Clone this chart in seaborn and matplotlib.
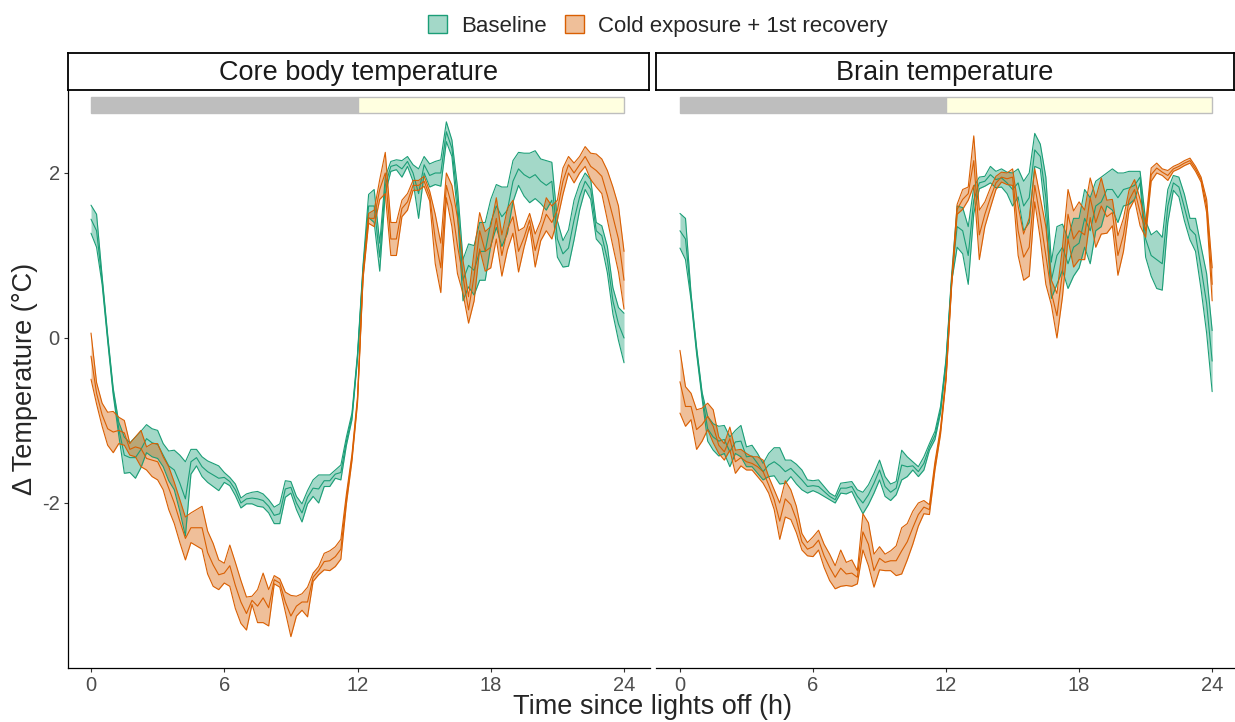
import numpy as np
import pandas as pd
import matplotlib.pyplot as plt
import seaborn as sns
from matplotlib.patches import Patch, Rectangle
from matplotlib.colors import to_rgb

# time since lights off (h), one sample every 15 min
TIME = np.arange(0, 24.25, 0.25)

# Core body temperature
core_base_mean = [1.44, 1.3, 0.7, 0.0, -0.65, -1.1, -1.42, -1.45, -1.45, -1.35, -1.22, -1.27, -1.29,
                  -1.42, -1.55, -1.6, -1.76, -1.95, -1.5, -1.45, -1.56, -1.62, -1.66, -1.7, -1.69,
                  -1.74, -1.84, -2.0, -1.95, -1.94, -1.95, -1.97, -2.04, -2.15, -2.13, -1.83, -1.81,
                  -2.0, -2.12, -1.93, -1.82, -1.83, -1.73, -1.73, -1.65, -1.63, -1.25, -0.95, -0.22,
                  0.85, 1.6, 1.6, 0.98, 1.85, 2.08, 2.1, 2.05, 2.14, 2.0, 1.75, 2.1, 1.97, 2.0, 2.0,
                  2.5, 2.3, 1.67, 0.7, 0.88, 0.82, 1.05, 1.05, 1.4, 1.6, 1.47, 1.55, 1.9, 2.05, 1.98,
                  1.94, 1.98, 1.9, 1.85, 1.9, 1.2, 1.02, 1.09, 1.43, 1.71, 1.9, 1.8, 1.3, 1.24, 0.95,
                  0.45, 0.17, 0.0]
core_base_se = [0.17, 0.2, 0.05, 0.04, 0.04, 0.08, 0.22, 0.18, 0.25, 0.22, 0.17, 0.17, 0.17, 0.14,
                0.18, 0.24, 0.34, 0.45, 0.15, 0.1, 0.12, 0.13, 0.14, 0.15, 0.06, 0.05, 0.07, 0.06,
                0.06, 0.07, 0.09, 0.08, 0.08, 0.1, 0.12, 0.1, 0.07, 0.08, 0.11, 0.08, 0.1, 0.17, 0.07,
                0.07, 0.05, 0.09, 0.05, 0.04, 0.03, 0.04, 0.14, 0.2, 0.17, 0.1, 0.06, 0.06, 0.1, 0.06,
                0.1, 0.3, 0.1, 0.14, 0.14, 0.16, 0.12, 0.1, 0.16, 0.25, 0.26, 0.3, 0.35, 0.35, 0.28,
                0.26, 0.36, 0.28, 0.25, 0.2, 0.26, 0.3, 0.29, 0.27, 0.3, 0.23, 0.22, 0.16, 0.22, 0.24,
                0.16, 0.1, 0.12, 0.1, 0.12, 0.16, 0.16, 0.2, 0.3]
core_cold_mean = [-0.22, -0.67, -0.93, -1.1, -1.14, -1.12, -1.15, -1.35, -1.32, -1.34, -1.46, -1.48,
                  -1.5, -1.64, -1.82, -2.0, -2.22, -2.43, -2.3, -2.3, -2.3, -2.6, -2.75, -2.87, -2.85,
                  -2.76, -3.0, -3.2, -3.34, -3.18, -3.25, -3.15, -3.27, -2.93, -2.97, -3.2, -3.37,
                  -3.25, -3.2, -3.2, -2.9, -2.82, -2.71, -2.7, -2.65, -2.56, -1.95, -1.45, -0.75,
                  0.75, 1.45, 1.45, 1.8, 2.0, 1.2, 1.2, 1.57, 1.65, 1.85, 1.85, 1.9, 1.72, 1.2, 0.85,
                  1.85, 1.6, 1.12, 0.74, 0.34, 0.75, 1.3, 1.05, 1.1, 1.45, 1.0, 1.32, 1.47, 1.05, 1.22,
                  1.43, 1.06, 1.3, 1.5, 1.4, 1.55, 1.9, 2.1, 2.0, 2.1, 2.2, 2.08, 2.03, 1.96, 1.73,
                  1.47, 1.2, 0.7]
core_cold_se = [0.28, 0.13, 0.14, 0.2, 0.25, 0.16, 0.15, 0.07, 0.12, 0.22, 0.14, 0.2, 0.22, 0.2,
                0.26, 0.25, 0.26, 0.26, 0.18, 0.22, 0.26, 0.26, 0.26, 0.18, 0.12, 0.25, 0.28, 0.26,
                0.2, 0.05, 0.2, 0.3, 0.22, 0.05, 0.05, 0.12, 0.25, 0.12, 0.1, 0.18, 0.05, 0.05, 0.1,
                0.12, 0.12, 0.12, 0.06, 0.04, 0.04, 0.03, 0.06, 0.1, 0.12, 0.25, 0.2, 0.2, 0.1, 0.1,
                0.06, 0.06, 0.06, 0.06, 0.3, 0.3, 0.15, 0.25, 0.34, 0.2, 0.16, 0.3, 0.22, 0.24, 0.25,
                0.25, 0.25, 0.25, 0.2, 0.25, 0.12, 0.08, 0.2, 0.12, 0.2, 0.2, 0.12, 0.16, 0.1, 0.12,
                0.1, 0.12, 0.16, 0.2, 0.21, 0.3, 0.36, 0.4, 0.35]

# Brain temperature
brain_base_mean = [1.3, 1.2, 0.5, -0.15, -0.7, -1.1, -1.2, -1.25, -1.23, -1.38, -1.26, -1.25, -1.44,
                   -1.43, -1.52, -1.62, -1.54, -1.5, -1.55, -1.62, -1.58, -1.65, -1.72, -1.8, -1.79,
                   -1.8, -1.86, -1.92, -1.96, -1.82, -1.82, -1.8, -1.92, -2.0, -1.9, -1.76, -1.6, -1.8,
                   -1.87, -1.82, -1.54, -1.56, -1.55, -1.62, -1.52, -1.32, -1.18, -0.87, -0.28, 0.72,
                   1.35, 1.3, 1.0, 1.67, 1.88, 1.9, 1.98, 1.92, 1.94, 1.88, 1.8, 1.88, 1.6, 1.7, 2.28,
                   2.2, 1.7, 0.7, 1.0, 1.1, 0.9, 1.1, 1.15, 1.45, 1.3, 1.6, 1.65, 1.8, 1.8, 1.7, 1.8,
                   1.82, 1.85, 1.95, 1.2, 1.0, 0.95, 0.9, 1.6, 1.88, 1.83, 1.58, 1.32, 1.25, 0.85, 0.42,
                   -0.28]
brain_base_se = [0.21, 0.25, 0.04, 0.04, 0.04, 0.15, 0.16, 0.18, 0.17, 0.18, 0.14, 0.19, 0.12, 0.13,
                 0.12, 0.1, 0.14, 0.17, 0.22, 0.14, 0.1, 0.12, 0.12, 0.08, 0.06, 0.08, 0.06, 0.04,
                 0.04, 0.06, 0.07, 0.06, 0.08, 0.13, 0.12, 0.12, 0.12, 0.12, 0.1, 0.08, 0.18, 0.12,
                 0.05, 0.06, 0.08, 0.04, 0.05, 0.04, 0.03, 0.04, 0.25, 0.28, 0.35, 0.16, 0.07, 0.06,
                 0.1, 0.1, 0.11, 0.13, 0.2, 0.17, 0.3, 0.3, 0.2, 0.15, 0.25, 0.22, 0.35, 0.28, 0.3,
                 0.35, 0.3, 0.35, 0.4, 0.3, 0.3, 0.2, 0.25, 0.3, 0.2, 0.2, 0.17, 0.07, 0.22, 0.25,
                 0.35, 0.32, 0.2, 0.09, 0.12, 0.16, 0.13, 0.2, 0.26, 0.36, 0.37]
brain_cold_mean = [-0.53, -0.83, -0.83, -1.11, -1.05, -0.95, -1.07, -1.3, -1.38, -1.22, -1.5, -1.45,
                   -1.5, -1.52, -1.56, -1.62, -1.78, -1.96, -2.22, -1.95, -2.02, -2.2, -2.47, -2.56,
                   -2.53, -2.45, -2.64, -2.78, -2.9, -2.79, -2.86, -2.85, -2.9, -2.35, -2.5, -2.82,
                   -2.67, -2.72, -2.7, -2.7, -2.58, -2.47, -2.3, -2.14, -2.05, -2.08, -1.55, -1.13,
                   -0.48, 0.65, 1.56, 1.68, 1.75, 2.15, 1.25, 1.5, 1.7, 1.88, 1.95, 1.93, 1.95, 1.3,
                   0.98, 1.1, 1.85, 1.45, 1.0, 0.55, 0.27, 0.8, 1.5, 1.2, 1.3, 1.25, 1.7, 1.4, 1.6,
                   1.47, 1.52, 1.0, 1.25, 1.67, 1.8, 1.52, 1.3, 1.98, 2.06, 2.01, 1.97, 2.05, 2.08,
                   2.12, 2.15, 2.05, 1.92, 1.6, 0.65]
brain_cold_se = [0.38, 0.24, 0.16, 0.24, 0.2, 0.16, 0.2, 0.1, 0.1, 0.14, 0.14, 0.1, 0.1, 0.08, 0.12,
                 0.14, 0.1, 0.12, 0.22, 0.22, 0.18, 0.16, 0.1, 0.08, 0.12, 0.12, 0.14, 0.16, 0.14,
                 0.22, 0.14, 0.16, 0.08, 0.22, 0.26, 0.2, 0.14, 0.1, 0.12, 0.18, 0.28, 0.22, 0.2,
                 0.14, 0.08, 0.06, 0.05, 0.04, 0.03, 0.03, 0.06, 0.12, 0.08, 0.3, 0.3, 0.15, 0.12,
                 0.08, 0.06, 0.07, 0.1, 0.3, 0.28, 0.35, 0.2, 0.25, 0.35, 0.15, 0.27, 0.3, 0.3, 0.34,
                 0.35, 0.3, 0.24, 0.3, 0.34, 0.2, 0.16, 0.24, 0.2, 0.12, 0.12, 0.16, 0.08, 0.08, 0.06,
                 0.04, 0.06, 0.03, 0.03, 0.03, 0.03, 0.03, 0.03, 0.08, 0.2]

PANELS = ["Core body temperature", "Brain temperature"]
CONDITIONS = ["Baseline", "Cold exposure + 1st recovery"]
COLORS = ["#1b9e77", "#d95f02"]

# light/dark bar along the top of each panel
LIGHT_START = [0, 12]
LIGHT_END = [12, 24]
LIGHT_COLORS = ["#bebebe", "#ffffe0"]

X_TICKS = [0, 6, 12, 18, 24]
Y_TICKS = [-2, 0, 2]

series = {
    (PANELS[0], CONDITIONS[0]): (core_base_mean, core_base_se),
    (PANELS[0], CONDITIONS[1]): (core_cold_mean, core_cold_se),
    (PANELS[1], CONDITIONS[0]): (brain_base_mean, brain_base_se),
    (PANELS[1], CONDITIONS[1]): (brain_cold_mean, brain_cold_se),
}

frames = []
for (panel, cond), (m, se) in series.items():
    m = np.array(m)
    se = np.array(se)
    frames.append(pd.DataFrame({"time": TIME, "mean": m, "lower": m - se, "upper": m + se,
                                "panel": panel, "condition": cond}))
df = pd.concat(frames, ignore_index=True)

sns.set_theme(style="white")
plt.rcParams["font.family"] = ["Liberation Sans", "DejaVu Sans"]
plt.rcParams["axes.unicode_minus"] = False

W, H = 1235, 722
fig = plt.figure(figsize=(W / 100, H / 100), dpi=100)


def frac(x0, y0, x1, y1):
    return [x0 / W, 1 - y1 / H, (x1 - x0) / W, (y1 - y0) / H]


panel_px = [(68, 650, (-1.036, 25.17)), (656, 1235, (-1.08, 25.03))]

for i, panel in enumerate(PANELS):
    x0, x1, xlim = panel_px[i]
    ax = fig.add_axes(frac(x0, 90, x1, 668))

    for cond, color in zip(CONDITIONS, COLORS):
        sub = df[(df["panel"] == panel) & (df["condition"] == cond)]
        ax.fill_between(sub["time"], sub["lower"], sub["upper"], color=color, alpha=0.4, lw=0)
        for col in ["lower", "mean", "upper"]:
            sns.lineplot(data=sub, x="time", y=col, color=color, lw=0.8, ax=ax,
                         estimator=None, sort=False, legend=False)

    for s, e, c in zip(LIGHT_START, LIGHT_END, LIGHT_COLORS):
        ax.add_patch(Rectangle((s, 2.73), e - s, 0.19, facecolor=c, edgecolor="#bebebe", lw=1.0))

    ax.set_xlim(*xlim)
    ax.set_ylim(-4.0, 3.006)
    ax.set_xticks(X_TICKS)
    ax.set_yticks(Y_TICKS)
    ax.set_xlabel("")
    ax.set_ylabel("")
    ax.tick_params(axis="both", which="both", length=3, width=0.8, color="#333333",
                   labelsize=14.5, labelcolor="#4d4d4d", pad=3, bottom=True, left=(i == 0))
    for side in ["top", "right"]:
        ax.spines[side].set_visible(False)
    ax.spines["bottom"].set_color("black")
    ax.spines["bottom"].set_linewidth(0.9)
    if i == 0:
        ax.spines["left"].set_color("black")
        ax.spines["left"].set_linewidth(0.9)
    else:
        ax.spines["left"].set_visible(False)
        ax.set_yticklabels([])

    # facet strip
    sax = fig.add_axes(frac(x0, 53, x1 - 1, 90))
    sax.set_xticks([])
    sax.set_yticks([])
    sax.set_facecolor("white")
    for sp in sax.spines.values():
        sp.set_visible(True)
        sp.set_color("black")
        sp.set_linewidth(1.3)
    sax.text(0.5, 0.47, panel, ha="center", va="center", fontsize=19.5, color="#1a1a1a",
             transform=sax.transAxes)

fig.text(652 / W, 1 - 707 / H, "Time since lights off (h)", ha="center", va="center", fontsize=19.5)
fig.text(25 / W, 1 - 379 / H, "Δ Temperature (°C)", ha="center", va="center", rotation=90,
         fontsize=19.5)

handles = [Patch(facecolor=(*to_rgb(c), 0.4), edgecolor=c, lw=1.0) for c in COLORS]
fig.legend(handles, CONDITIONS, loc="center", bbox_to_anchor=(658 / W, 1 - 26 / H), ncol=2,
           frameon=False, fontsize=16, handlelength=0.85, handleheight=0.85,
           handletextpad=0.65, columnspacing=0.8)

fig.savefig("out.png", dpi=100)
